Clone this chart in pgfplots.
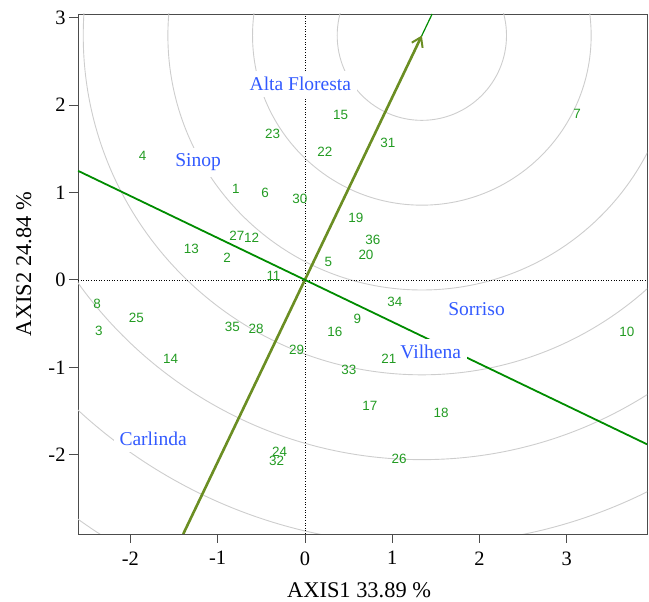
\documentclass[border=0pt]{standalone}
\usepackage{fontspec}
\setmainfont{Liberation Serif}
\newfontfamily\arial{Liberation Sans}
\usepackage{pgfplots}
\pgfplotsset{compat=1.18}
\usepackage{pgfplotstable}
\usetikzlibrary{arrows.meta}

\definecolor{olive}{RGB}{107,142,35}
\definecolor{linegreen}{RGB}{0,140,0}
\definecolor{genogreen}{RGB}{34,155,34}
\definecolor{envblue}{RGB}{50,90,255}
\definecolor{ringgray}{RGB}{205,205,205}

% genotype scores (AXIS1, AXIS2)
\pgfplotstableread{
label x y
1 -0.79 1.04
2 -0.89 0.255
3 -2.36 -0.58
4 -1.86 1.42
5 0.27 0.21
6 -0.455 0.99
7 3.12 1.90
8 -2.38 -0.27
9 0.60 -0.45
10 3.69 -0.59
11 -0.36 0.04
12 -0.61 0.48
13 -1.30 0.35
14 -1.54 -0.906
15 0.41 1.89
16 0.344 -0.60
17 0.745 -1.44
18 1.56 -1.52
19 0.585 0.705
20 0.70 0.286
21 0.963 -0.90
22 0.23 1.46
23 -0.37 1.67
24 -0.29 -1.97
25 -1.93 -0.43
26 1.08 -2.05
27 -0.78 0.50
28 -0.56 -0.56
29 -0.095 -0.80
30 -0.057 0.925
31 0.95 1.57
32 -0.325 -2.07
33 0.505 -1.03
34 1.03 -0.25
35 -0.83 -0.54
36 0.78 0.457
}\genotypes

% environment labels (baseline positions)
\pgfplotstableread[col sep=comma]{
label,x,y
Alta Floresta,-0.052,2.161
Sinop,-1.223,1.296
Carlinda,-1.739,-1.898
Sorriso,1.967,-0.412
Vilhena,1.442,-0.896
}\environments

\begin{document}
\begin{tikzpicture}
\begin{axis}[
    name=ax,
    scale only axis,
    width=569bp, height=520bp,
    xmin=-2.6, xmax=3.92,
    ymin=-2.906, ymax=3.04,
    axis line style={black!70, line width=0.8bp},
    xtick={-2,-1,0,1,2,3},
    xticklabels={-2,-1,0,1,2,3},
    ytick={-2,-1,0,1,2,3},
    yticklabels={-2,-1,0,1,2,3},
    xtick pos=bottom, ytick pos=left,
    tick align=outside,
    major tick length=9bp,
    tick style={black!70, line width=0.8bp},
    ticklabel style={font=\fontsize{20.5}{24}\selectfont},
    xticklabel style={yshift=-5bp},
    xlabel={AXIS1 33.89 \%},
    ylabel={AXIS2 24.84 \%},
    label style={font=\fontsize{22.5}{26}\selectfont},
    xlabel style={at={(axis description cs:0.494,-0.123)}, anchor=base},
    ylabel style={at={(axis description cs:-0.0826,0.519)}, anchor=base, rotate=0},
]
% concentric rings around the ideal point
\draw[ringgray, line width=0.9bp] (axis cs:1.34,2.794) circle[radius=0.97];
\draw[ringgray, line width=0.9bp] (axis cs:1.34,2.794) circle[radius=1.94];
\draw[ringgray, line width=0.9bp] (axis cs:1.34,2.794) circle[radius=2.91];
\draw[ringgray, line width=0.9bp] (axis cs:1.34,2.794) circle[radius=3.88];
\draw[ringgray, line width=0.9bp] (axis cs:1.34,2.794) circle[radius=4.85];
\draw[ringgray, line width=0.9bp] (axis cs:1.34,2.794) circle[radius=5.82];
\draw[ringgray, line width=0.9bp] (axis cs:1.34,2.794) circle[radius=6.79];

% dotted zero lines
\addplot[black, line width=0.7bp, dash pattern=on 1bp off 1.6bp] coordinates {(-2.6,0) (3.92,0)};
\addplot[black, line width=0.7bp, dash pattern=on 1bp off 1.6bp] coordinates {(0,-2.906) (0,3.04)};

% average environment axis and its perpendicular
\addplot[linegreen, line width=1.2bp] coordinates {(-1.394,-2.906) (1.458,3.04)};
\addplot[olive, line width=2.6bp, -{Straight Barb[length=9bp,width=12bp,line width=2bp]}]
    coordinates {(-1.394,-2.906) (1.34,2.794)};
\addplot[linegreen, line width=1.8bp] coordinates {(-2.6,1.247) (3.92,-1.880)};

% environment names
\addplot[draw=none, mark=none, nodes near coords, point meta=explicit symbolic,
    nodes near coords style={anchor=base, text=envblue, fill=white, inner sep=6bp,
        font=\fontsize{19.6}{22}\selectfont}]
    table[x=x, y=y, meta=label] {\environments};

% genotype numbers
\addplot[draw=none, mark=none, nodes near coords, point meta=explicit symbolic,
    nodes near coords style={anchor=center, text=genogreen, inner sep=0pt,
        font=\arial\fontsize{13.5}{16}\selectfont}]
    table[x=x, y=y, meta=label] {\genotypes};
\end{axis}
\pgfresetboundingbox
\path[use as bounding box] ([shift={(-78bp,-68bp)}]ax.south west) rectangle ([shift={(2bp,14bp)}]ax.north east);
\end{tikzpicture}
\end{document}
